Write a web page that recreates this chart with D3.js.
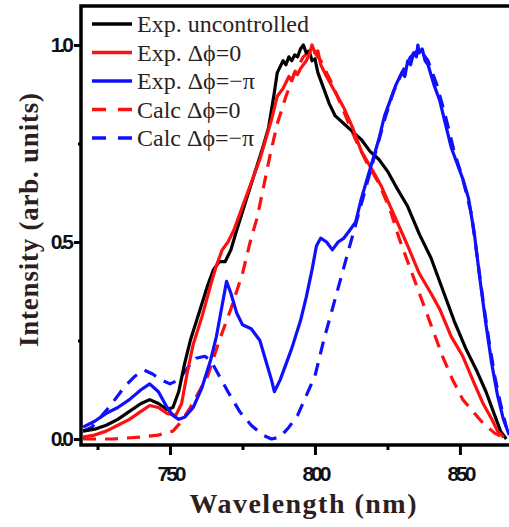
<!DOCTYPE html>
<html>
<head>
<meta charset="utf-8">
<script src="https://cdn.jsdelivr.net/npm/d3@7"></script>
<style>
  body { margin: 0; background: #fff; }
  .tick-label { font-family: "Liberation Sans", Arial, sans-serif; font-weight: bold; font-size: 21px; letter-spacing: -3px; fill: #111; }
  .title { font-family: "Liberation Serif", "Times New Roman", serif; fill: #2e1e1e; font-weight: bold; }
  .legend-text { font-family: "Liberation Serif", "Times New Roman", serif; font-size: 24px; fill: #2e1e1e; }
</style>
</head>
<body>
<div id="chart"></div>
<script>

// wavelength (nm) / intensity pairs
var wl_uncontrolled = [720,724,728,732,736,740,743,746,749,751,753,755,757,760,763,765,767,769,771,773,776,779,782,784,786,787,789,790,791,792,793,794,795,796,797,798,799,800,801,803,805,807,810,813,816,819,822,825,828,832,836,840,844,848,852,856,859,862,864,866];
var val_uncontrolled = [0.02,0.025,0.035,0.05,0.07,0.09,0.10,0.09,0.075,0.08,0.12,0.19,0.25,0.32,0.39,0.43,0.45,0.45,0.48,0.53,0.60,0.67,0.74,0.79,0.88,0.93,0.96,0.95,0.97,0.96,0.975,0.97,0.99,1.0,0.98,0.985,0.96,0.965,0.93,0.89,0.85,0.82,0.80,0.78,0.76,0.73,0.71,0.68,0.64,0.59,0.52,0.46,0.38,0.30,0.23,0.17,0.12,0.06,0.02,0.0];

var wl_phase0 = [720,724,728,732,736,740,743,746,749,752,754,756,758,761,764,766,768,770,772,775,778,781,783,785,787,789,790,791,792,793,794,795,796,797,798,799,800,801,802,804,807,810,813,816,820,823,826,829,832,836,840,843,847,851,855,858,861,863,865];
var val_phase0 = [0.005,0.01,0.02,0.035,0.05,0.07,0.085,0.08,0.065,0.06,0.09,0.17,0.24,0.31,0.39,0.44,0.48,0.50,0.53,0.59,0.65,0.71,0.76,0.81,0.87,0.89,0.905,0.92,0.91,0.93,0.925,0.94,0.95,0.96,0.975,1.0,0.98,0.985,0.95,0.92,0.88,0.84,0.79,0.73,0.68,0.64,0.59,0.54,0.49,0.42,0.37,0.33,0.26,0.21,0.14,0.09,0.05,0.02,0.005];

var wl_phasePi = [720,724,728,732,736,740,743,746,749,751,753,755,758,761,764,766,768,769.5,771,773,775,778,781,783,785,786,788,790,792,795,797,799,800.5,802,804,806,808,810,812,814,816,818,820,822,824,826,828,830,831,832,833,834,835,835.5,836,837,838,839,841,843,845,847,849,851,853,855,857,859,861,863,865,867];
var val_phasePi = [0.03,0.045,0.065,0.08,0.10,0.125,0.14,0.12,0.08,0.06,0.05,0.055,0.08,0.13,0.20,0.26,0.34,0.40,0.37,0.32,0.29,0.28,0.25,0.20,0.15,0.12,0.15,0.19,0.23,0.30,0.36,0.43,0.49,0.51,0.50,0.48,0.50,0.51,0.53,0.55,0.61,0.66,0.71,0.76,0.82,0.86,0.90,0.93,0.92,0.96,0.95,0.98,0.97,1.0,0.98,0.99,0.96,0.95,0.90,0.86,0.80,0.74,0.70,0.66,0.61,0.52,0.40,0.29,0.19,0.11,0.05,0.01];

var wl_calc0 = [720,730,740,746,751,754,757,760,763,767,771,775,778,780,782,784.5,787,790,793,796,799,802,806,810,814,818,822,826,829,832,835,838,841,844,847.5,851,854.5,858,862,866];
var val_calc0 = [0.0,0.0,0.005,0.01,0.02,0.045,0.08,0.12,0.16,0.25,0.33,0.42,0.51,0.56,0.63,0.72,0.80,0.87,0.93,0.97,0.99,0.96,0.90,0.83,0.76,0.70,0.65,0.58,0.51,0.45,0.39,0.33,0.27,0.21,0.15,0.10,0.07,0.04,0.015,0.0];

var wl_calcPi = [720,723,726,730,734,738,741,744,747,750,753,756,759,762,764,767,770,774,778,782,785,788,791,794,797,800,803,806,809,812,815,818,821,824,827,830,833,836,839,842,845,848,851,854,856,858,860,862,864,866];
var val_calcPi = [0.02,0.03,0.055,0.09,0.13,0.16,0.175,0.165,0.15,0.14,0.15,0.18,0.205,0.21,0.20,0.16,0.12,0.07,0.035,0.01,0.0,0.005,0.03,0.06,0.11,0.16,0.25,0.33,0.41,0.49,0.57,0.65,0.73,0.81,0.88,0.93,0.97,0.99,0.96,0.90,0.82,0.73,0.66,0.57,0.46,0.35,0.25,0.16,0.09,0.03];

var legend_labels = ["Exp. uncontrolled", "Exp. \u0394\u03d5=0", "Exp. \u0394\u03d5=\u2212\u03c0", "Calc \u0394\u03d5=0", "Calc \u0394\u03d5=\u2212\u03c0"];
var x_ticks = [750, 800, 850];
var x_minor = [725, 775, 825];
var y_ticks = [0.0, 0.5, 1.0];
var y_minor = [0.25, 0.75];

function zip(w, v) { return w.map(function(d, i) { return [d, v[i]]; }); }

function draw_chart()
{
  var series = [
    {name: legend_labels[0], data: zip(wl_uncontrolled, val_uncontrolled), color: "#000000", dash: null},
    {name: legend_labels[1], data: zip(wl_phase0, val_phase0), color: "#ff1010", dash: null},
    {name: legend_labels[2], data: zip(wl_phasePi, val_phasePi), color: "#1010ff", dash: null},
    {name: legend_labels[3], data: zip(wl_calc0, val_calc0), color: "#ff1010", dash: "13,9"},
    {name: legend_labels[4], data: zip(wl_calcPi, val_calcPi), color: "#1010ff", dash: "13,9"}
  ];

  var width = 509, height = 527;
  var m_left = 81, m_right = 515, m_top = 6, m_bottom = 445;

  var svg = d3.select("#chart").append("svg")
      .attr("width", width)
      .attr("height", height);

  var x = d3.scaleLinear().domain([719.3, 869]).range([m_left, m_right]);
  var y = d3.scaleLinear().domain([-0.0152, 1.099]).range([m_bottom, m_top]);

  svg.append("clipPath").attr("id", "plotclip")
    .append("rect").attr("x", m_left).attr("y", m_top).attr("width", m_right - m_left).attr("height", m_bottom - m_top);

  // curves, dashed ones underneath
  var line = d3.line().x(function(d) { return x(d[0]); }).y(function(d) { return y(d[1]); });
  var order = [3, 4, 0, 1, 2];
  svg.append("g").attr("clip-path", "url(#plotclip)")
    .selectAll("path")
    .data(order.map(function(i) { return series[i]; }))
    .enter().append("path")
      .attr("d", function(d) { return line(d.data); })
      .attr("fill", "none")
      .attr("stroke", function(d) { return d.color; })
      .attr("stroke-width", 3.2)
      .attr("stroke-linejoin", "round")
      .attr("stroke-dasharray", function(d) { return d.dash; });

  // axes
  svg.append("g").attr("transform", "translate(0," + m_bottom + ")")
    .call(d3.axisBottom(x).tickValues(x_ticks).tickSize(10).tickPadding(11).tickFormat(d3.format("d")));
  svg.append("g").attr("transform", "translate(0," + m_bottom + ")")
    .call(d3.axisBottom(x).tickValues(x_minor).tickSize(5).tickFormat(""));
  svg.append("g").attr("transform", "translate(" + m_left + ",0)")
    .call(d3.axisLeft(y).tickValues(y_ticks).tickSize(7).tickPadding(3).tickFormat(d3.format(".1f")));
  svg.append("g").attr("transform", "translate(" + m_left + ",0)")
    .call(d3.axisLeft(y).tickValues(y_minor).tickSize(3).tickFormat(""));

  svg.selectAll(".domain").remove();
  svg.selectAll(".tick line").attr("stroke", "#000").attr("stroke-width", 3);
  svg.selectAll(".tick text").attr("class", "tick-label").attr("fill", null);

  // frame: top, left, bottom
  svg.append("path")
    .attr("d", "M" + m_right + "," + m_top + "H" + m_left + "V" + m_bottom + "H" + m_right)
    .attr("fill", "none")
    .attr("stroke", "#000")
    .attr("stroke-width", 3.5);

  // axis titles
  svg.append("text")
    .attr("class", "title")
    .attr("x", 303).attr("y", 513)
    .attr("text-anchor", "middle")
    .attr("font-size", 28)
    .attr("textLength", 227).attr("lengthAdjust", "spacing")
    .text("Wavelength (nm)");

  svg.append("text")
    .attr("class", "title")
    .attr("transform", "translate(38,220) rotate(-90)")
    .attr("text-anchor", "middle")
    .attr("font-size", 27)
    .attr("textLength", 254).attr("lengthAdjust", "spacing")
    .text("Intensity (arb. units)");

  // legend
  var legend = svg.append("g").selectAll("g")
    .data(series)
    .enter().append("g")
      .attr("transform", function(d, i) { return "translate(92," + (24 + i * 28.5) + ")"; });

  legend.append("line")
    .attr("x1", 0).attr("x2", 40).attr("y1", 0).attr("y2", 0)
    .attr("stroke", function(d) { return d.color; })
    .attr("stroke-width", 3.5)
    .attr("stroke-dasharray", function(d) { return d.dash ? "14,12" : null; });

  legend.append("text")
    .attr("class", "legend-text")
    .attr("x", 45).attr("y", 8)
    .text(function(d) { return d.name; });
}

draw_chart();

</script>
</body>
</html>
